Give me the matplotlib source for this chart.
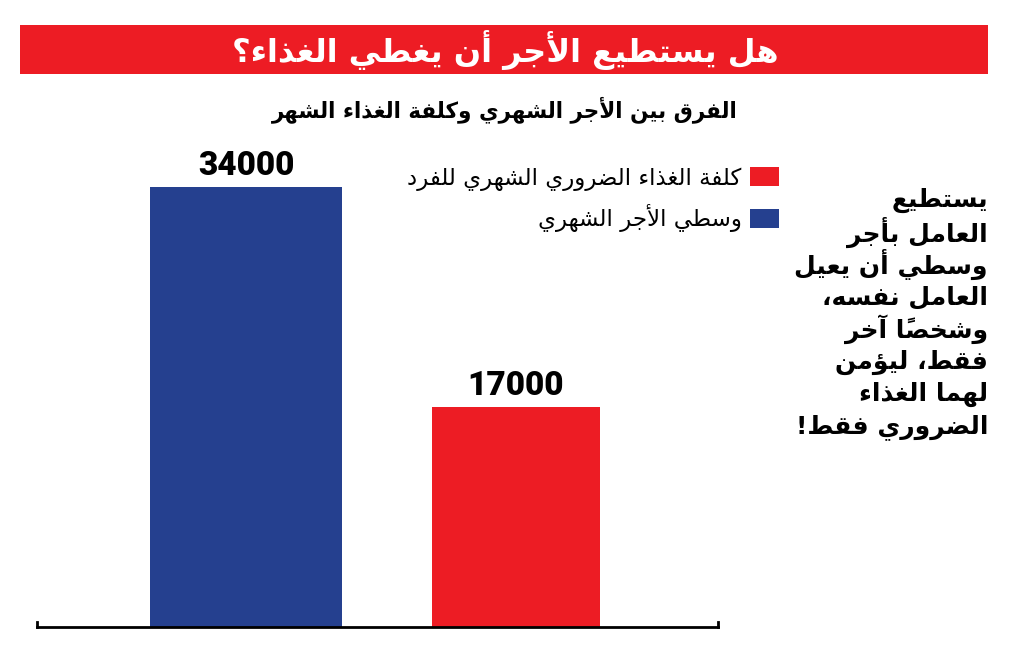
import matplotlib.pyplot as plt
from matplotlib.patches import Rectangle

# --- data ---
categories = ["وسطي الأجر الشهري", "كلفة الغذاء الضروري الشهري للفرد"]
values = [34000, 17000]
colors = ["#25408F", "#ED1C24"]

title = "هل يستطيع الأجر أن يغطي الغذاء؟"
subtitle = "الفرق بين الأجر الشهري وكلفة الغذاء الشهر"
side_lines = ["يستطيع", "العامل بأجر", "وسطي أن يعيل", "العامل نفسه،",
              "وشخصاً آخر", "فقط، ليؤمن", "لهما الغذاء", "الضروري فقط!"]

# --- tiny arabic shaper (matplotlib draws text left to right, no joining) ---
_letters = "ءآأؤإئابةتثجحخدذرزسشصضطظعغفقكلمنهوىي"
_counts = [1, 2, 2, 2, 2, 4, 2, 4, 2, 4, 4, 4, 4, 4, 2, 2, 2, 2, 4, 4, 4, 4,
           4, 4, 4, 4, 4, 4, 4, 4, 4, 4, 4, 2, 2, 4]
FORMS = {}
_cp = 0xFE80
for ch, n in zip(_letters, _counts):
    FORMS[ch] = (_cp, n)
    _cp += n
LAM_ALEF = "آأإا"


def shape(text):
    items = []
    i = 0
    while i < len(text):
        c = text[i]
        if c == "ل" and i + 1 < len(text) and text[i + 1] in LAM_ALEF:
            items.append(["LA" + text[i + 1], ""])
            i += 2
        elif 0x064B <= ord(c) <= 0x0652 and items:
            items[-1][1] += c
            i += 1
        else:
            items.append([c, ""])
            i += 1

    def is_letter(k):
        return k.startswith("LA") or k in FORMS

    def dual(k):
        return k in FORMS and FORMS[k][1] == 4

    out = []
    for j, (k, marks) in enumerate(items):
        if not is_letter(k):
            out.append(k + marks)
            continue
        pj = j > 0 and dual(items[j - 1][0]) and is_letter(items[j - 1][0])
        nj = dual(k) and j + 1 < len(items) and is_letter(items[j + 1][0])
        if k.startswith("LA"):
            g = chr(0xFEF5 + 2 * LAM_ALEF.index(k[2]) + (1 if pj else 0))
        else:
            base, n = FORMS[k]
            if n == 4:
                g = chr(base + {(0, 0): 0, (1, 0): 1, (0, 1): 2, (1, 1): 3}[(int(pj), int(nj))])
            elif n == 2:
                g = chr(base + (1 if pj else 0))
            else:
                g = chr(base)
        out.append(g + marks)
    return "".join(reversed(out))


plt.rcParams['font.family'] = ['DejaVu Sans']

fig = plt.figure(figsize=(10.24, 6.68), dpi=100)
W, H = 1024, 668

# red title band
fig.add_artist(Rectangle((20 / W, 1 - 74 / H), 968 / W, 49 / H,
                         transform=fig.transFigure, color="#ED1C24", lw=0))
fig.text(505 / W, 1 - 50 / H, shape(title), color="white", fontsize=23,
         fontweight="bold", ha="center", va="center")
fig.text(505 / W, 1 - 110 / H, shape(subtitle), color="black", fontsize=15.5,
         fontweight="bold", ha="center", va="center")

# bar area
ymax = 37000
ax_h = ymax / values[0] * 440
ax = fig.add_axes([37 / W, 41 / H, 681 / W, ax_h / H])
x = [0, 1]
widths = [0.711, 0.622]
bars = ax.bar(x, values, width=widths, color=colors)
ax.set_xlim(-0.774, 1.748)
ax.set_ylim(0, ymax)
for b, v in zip(bars, values):
    ax.text(b.get_x() + b.get_width() / 2, v + 420, str(v), ha="center", va="bottom",
            fontsize=24, fontweight="heavy", family="Roboto")

ax.set_xticks([])
ax.set_yticks([])
ax.spines['top'].set_visible(False)
ax.spines['bottom'].set_linewidth(2)
for s in ('left', 'right'):
    ax.spines[s].set_linewidth(2)
    ax.spines[s].set_bounds(0, 420)

leg = fig.legend(handles=[bars[1], bars[0]], labels=[shape(categories[1]), shape(categories[0])],
                 loc="upper right", bbox_to_anchor=(800 / W, 1 - 146 / H), markerfirst=False,
                 frameon=False, fontsize=16.5, handlelength=1.3, handleheight=0.9,
                 labelspacing=0.6, handletextpad=0.35)

# side note, one line at a time so the spacing stays even
for i, s in enumerate(side_lines):
    fig.text(988 / W, 1 - (200 + i * 32.4) / H, shape(s), ha="right", va="center",
             fontsize=18, fontweight="bold")

fig.savefig("out.png", dpi=100)
